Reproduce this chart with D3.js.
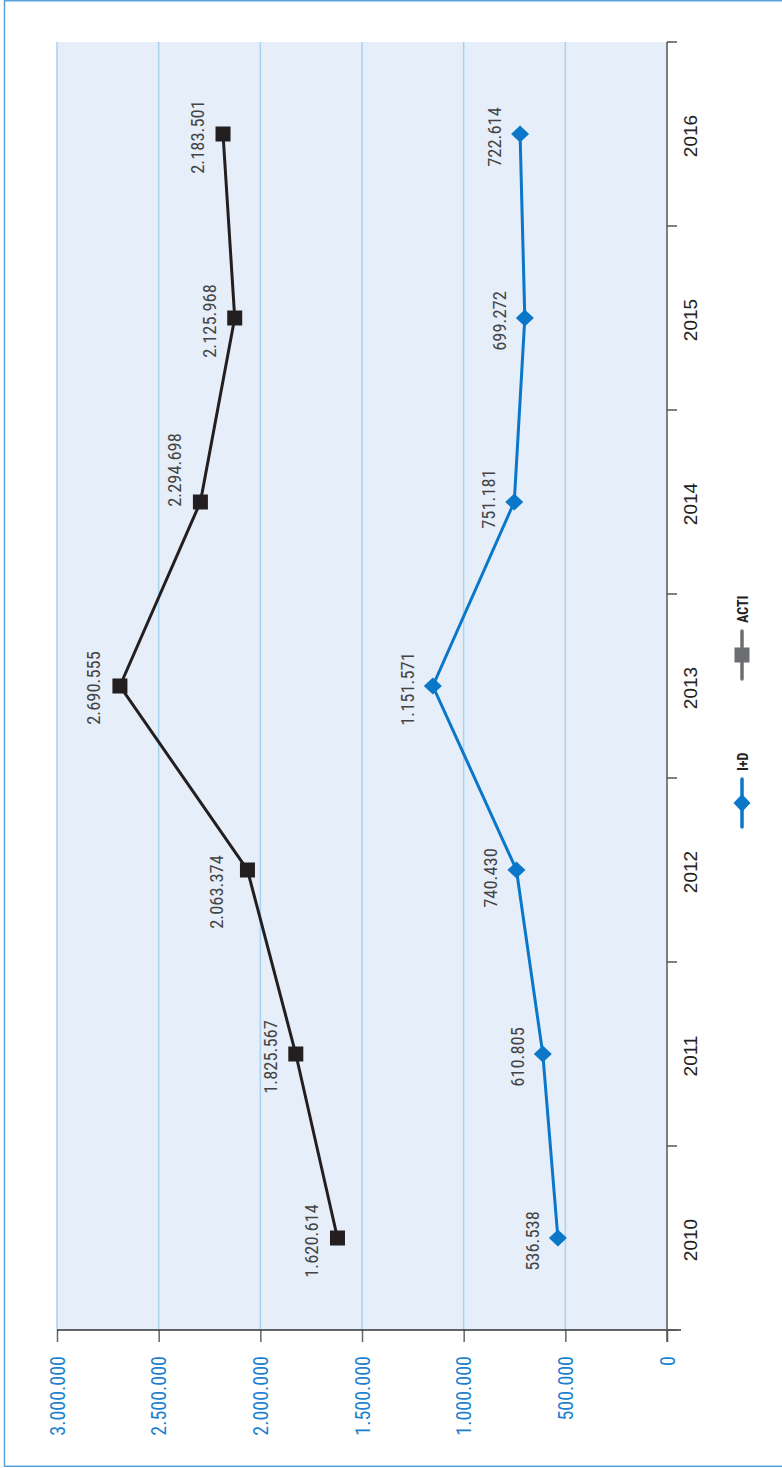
<!DOCTYPE html>
<html><head><meta charset="utf-8">
<script src="https://cdn.jsdelivr.net/npm/d3@7"></script>
<style>html,body{margin:0;padding:0;background:#fff}svg{display:block}</style>
</head><body>
<svg id="c" width="782" height="1468"></svg>
<script>
const years = ["2010","2011","2012","2013","2014","2015","2016"];
const acti = [1620614, 1825567, 2063374, 2690555, 2294698, 2125968, 2183501];
const imasd = [536538, 610805, 740430, 1151571, 751181, 699272, 722614];
const valueTicks = [0, 500000, 1000000, 1500000, 2000000, 2500000, 3000000];
const seriesNames = ["I+D", "ACTI"];

const svg = d3.select("#c");
const fmt = v => d3.format(",")(v).replace(/,/g, ".");
const NARROW = "'Liberation Sans Narrow','Roboto Condensed','Liberation Sans',Arial,sans-serif";

// outer frame
svg.append("rect").attr("x",4.5).attr("y",0.75).attr("width",800).attr("height",1465.5)
  .attr("fill","none").attr("stroke","#5aa3da").attr("stroke-width",1.5);

const L = 57, R = 667, T = 42, B = 1330;
const x = d3.scaleLinear().domain([0, 3000000]).range([R, L]);
const y = d3.scaleBand().domain(years).range([B, T]).paddingInner(0).paddingOuter(0);
const cy = d => y(d) + y.bandwidth()/2;

svg.append("rect").attr("x",L).attr("y",T).attr("width",R-L).attr("height",B-T).attr("fill","#e6eef9");

// gridlines
svg.append("g").selectAll("line").data(valueTicks.filter(v=>v>0)).join("line")
  .attr("x1",d=>x(d)).attr("x2",d=>x(d)).attr("y1",T).attr("y2",B)
  .attr("stroke","#a9d1f0").attr("stroke-width",1.5);

// bottom value axis
const gx = svg.append("g").attr("transform",`translate(0,${B})`)
  .call(d3.axisBottom(x).tickValues(valueTicks).tickSize(12).tickSizeOuter(0).tickFormat(fmt));
gx.select(".domain").remove();
gx.append("line").attr("x1",L).attr("x2",R+14).attr("y1",0).attr("y2",0).attr("stroke","#333").attr("stroke-width",1.5);
gx.selectAll(".tick line").attr("stroke","#666").attr("stroke-width",1.5);
gx.selectAll(".tick text")
  .attr("transform","translate(0,26) rotate(-90)")
  .attr("x",0).attr("y",0).attr("dy","0.36em")
  .attr("text-anchor","end")
  .attr("fill","#1a80d0").style("font-family",NARROW).style("font-size","20px");

// right category axis
const gy = svg.append("g");
gy.append("line").attr("x1",R).attr("x2",R).attr("y1",T).attr("y2",B+12).attr("stroke","#555").attr("stroke-width",1.5);
const bounds = years.map(d=>y(d)+y.bandwidth()).concat([T]);
gy.selectAll("line.t").data(bounds).join("line").attr("class","t")
  .attr("x1",R).attr("x2",R+10).attr("y1",d=>d).attr("y2",d=>d)
  .attr("stroke","#555").attr("stroke-width",1.5);
gy.selectAll("text").data(years).join("text")
  .attr("transform",d=>`translate(697,${cy(d)+2}) rotate(-90)`)
  .attr("text-anchor","middle").attr("fill","#222")
  .style("font-family","'Liberation Sans',Arial,sans-serif").style("font-size","19px")
  .text(d=>d);

// lines
const line = d3.line().x(d=>x(d.v)).y(d=>cy(d.y));
const actiData = years.map((yy,i)=>({s:"ACTI",y:yy,v:acti[i]}));
const idData = years.map((yy,i)=>({s:"I+D",y:yy,v:imasd[i]}));

svg.append("path").datum(actiData).attr("d",line).attr("fill","none").attr("stroke","#231f20").attr("stroke-width",3);
svg.append("path").datum(idData).attr("d",line).attr("fill","none").attr("stroke","#0a77c9").attr("stroke-width",3);

const diamond = (w,h) => `M0,${-h/2}L${w/2},0L0,${h/2}L${-w/2},0Z`;

svg.append("g").selectAll("rect").data(actiData).join("rect")
  .attr("x",d=>x(d.v)-7.5).attr("y",d=>cy(d.y)-7.5).attr("width",15).attr("height",15).attr("fill","#231f20");
svg.append("g").selectAll("path").data(idData).join("path")
  .attr("transform",d=>`translate(${x(d.v)},${cy(d.y)})`).attr("d",diamond(18,17)).attr("fill","#0a77c9");

// data labels (placement nudges to avoid the line, as in the original)
const nudge = {"ACTI2012":[-5,19], "ACTI2014":[0,-35], "ACTI2013":[-1,-1], "I+D2014":[0,-6], "I+D2012":[0,5]};
const lab = (data) => svg.append("g").selectAll("text").data(data).join("text")
  .attr("transform",d=>{
    const n = nudge[d.s+d.y] || [0,0];
    return `translate(${x(d.v)-19+n[0]},${cy(d.y)+3+n[1]}) rotate(-90)`;
  })
  .attr("text-anchor","middle").attr("fill","#444")
  .style("font-family",NARROW).style("font-size","18.5px")
  .text(d=>fmt(d.v));
lab(actiData); lab(idData);

// legend
const legY = d3.scalePoint().domain(seriesNames).range([803, 655]);
const legColor = {"I+D":"#0a77c9","ACTI":"#6d6e71"};
const lg = svg.append("g");
seriesNames.forEach(n=>{
  const c = legY(n);
  lg.append("line").attr("x1",742).attr("x2",742).attr("y1",c-24).attr("y2",c+24)
    .attr("stroke",legColor[n]).attr("stroke-width",3.5).attr("stroke-linecap","round");
  if(n==="I+D") lg.append("path").attr("transform",`translate(742,${c})`).attr("d",diamond(17,18)).attr("fill",legColor[n]);
  else lg.append("rect").attr("x",734.5).attr("y",c-7.5).attr("width",15).attr("height",15).attr("fill",legColor[n]);
  lg.append("text").attr("transform",`translate(748,${c-32}) rotate(-90)`)
    .attr("text-anchor","start").attr("fill","#222")
    .style("font-family",NARROW).style("font-size","14px").style("font-weight","bold")
    .text(n);
});
</script>
</body></html>
